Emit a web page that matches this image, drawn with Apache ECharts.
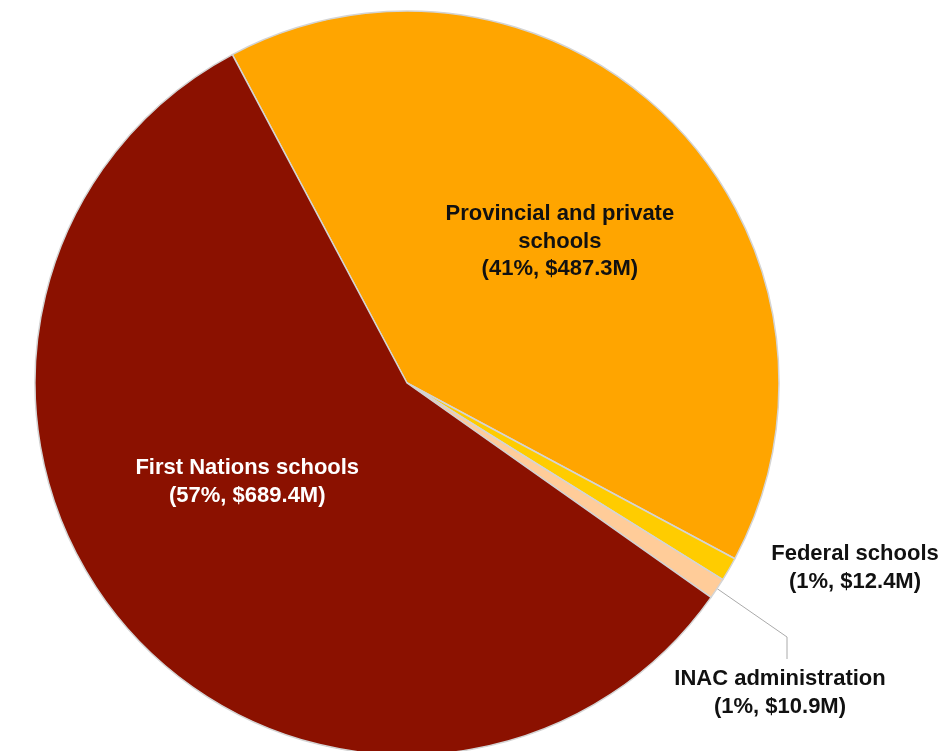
<!DOCTYPE html>
<html><head><meta charset="utf-8">
<script src="https://cdn.jsdelivr.net/npm/echarts@6/dist/echarts.min.js"></script>
<style>html,body{margin:0;padding:0;background:#fff}#c{width:952px;height:751px}</style>
</head><body><div id="c"></div>
<script>
const categories = ['Provincial and private\nschools', 'Federal schools', 'INAC administration', 'First Nations schools'];
const values = [487.3, 12.4, 10.9, 689.4];
const percents = ['41%', '1%', '1%', '57%'];
const colors = ['#FFA500', '#FFCC00', '#FFCC99', '#8B1100'];

const chart = echarts.init(document.getElementById('c'));
const data = categories.map((c, i) => ({
  name: c,
  value: values[i],
  itemStyle: { color: colors[i] },
  label: i === 0 ? { position: 'inside', offset: [19, -8], color: '#111' }
       : i === 3 ? { position: 'inside', offset: [-18, -26], color: '#fff' }
       : { position: 'outside', color: '#111' },
  labelLine: { show: i === 2, lineStyle: { color: '#aaaaaa', width: 1 } }
}));
chart.setOption({
  animation: false,
  series: [{
    type: 'pie',
    center: [407, 383],
    radius: 372,
    startAngle: 118,
    clockwise: true,
    avoidLabelOverlap: false,
    itemStyle: { borderColor: '#d4d4d4', borderWidth: 1.5 },
    label: {
      show: true,
      fontFamily: 'Liberation Sans, Arial, sans-serif',
      fontWeight: 'bold',
      fontSize: 22,
      lineHeight: 27.5,
      align: 'center',
      formatter: p => p.name + '\n(' + percents[p.dataIndex] + ', $' + values[p.dataIndex].toFixed(1) + 'M)'
    },
    labelLayout: function (params) {
      if (params.dataIndex === 1) {
        return { x: 855, y: 568, align: 'center', verticalAlign: 'middle' };
      }
      if (params.dataIndex === 2) {
        const p0 = params.labelLinePoints ? params.labelLinePoints[0] : [719, 588];
        return { x: 780, y: 693, align: 'center', verticalAlign: 'middle',
                 labelLinePoints: [p0, [787, 637], [787, 659]] };
      }
    },
    data: data
  }]
});
</script></body></html>
